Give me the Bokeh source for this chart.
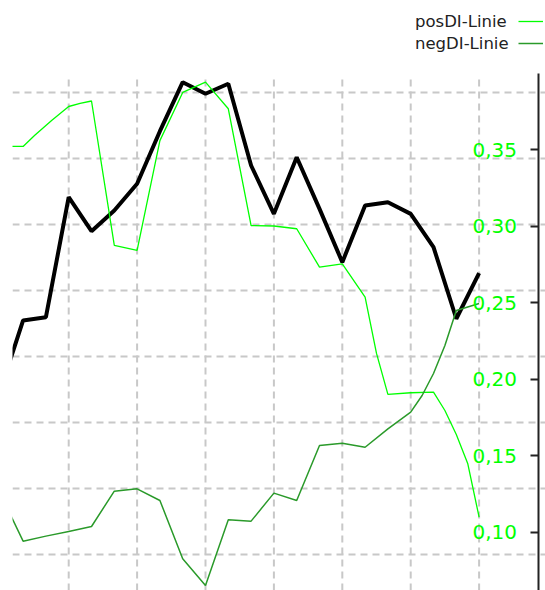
from bokeh.plotting import figure
from bokeh.models import Range1d, LinearAxis, FixedTicker, Grid, Legend, LegendItem
from bokeh.embed import file_html
from bokeh.resources import INLINE

# ---- data ----
idx = list(range(22))
adx_line = [17.42, 22.72, 22.97, 32.05, 29.48, 31.04, 33.07, 37.05, 40.76, 39.88, 40.64,
            34.45, 30.79, 35.08, 31.17, 27.13, 31.42, 31.67, 30.79, 28.27, 22.85, 26.30]

pos_x = [0, 1, 1.5, 2.25, 3, 3.5, 4, 5, 6, 7, 8, 9, 10, 11, 12, 13, 14, 15, 16, 16.5,
         17, 18, 19, 19.5, 20, 20.5, 21]
pos_di = [0.3522, 0.3522, 0.3593, 0.3692, 0.3783, 0.3803, 0.3819, 0.2875, 0.2842, 0.3560,
          0.3875, 0.3942, 0.3768, 0.3005, 0.3002, 0.2984, 0.2733, 0.2755, 0.2537, 0.2169,
          0.1901, 0.1912, 0.1916, 0.1796, 0.1639, 0.1450, 0.1099]

neg_x = [0, 1, 2, 3, 4, 5, 6, 7, 8, 9, 10, 11, 12, 13, 14, 15, 16, 17, 18, 18.5, 19,
         19.5, 20, 21]
neg_di = [0.1254, 0.0942, 0.0975, 0.1005, 0.1038, 0.1269, 0.1284, 0.1208, 0.0827, 0.0652,
          0.1082, 0.1073, 0.1256, 0.1208, 0.1567, 0.1582, 0.1556, 0.1676, 0.1785, 0.1894,
          0.2038, 0.2221, 0.2450, 0.2495]

di_ticks = [0.10, 0.15, 0.20, 0.25, 0.30, 0.35]
di_tick_labels = ["0,10", "0,15", "0,20", "0,25", "0,30", "0,35"]
adx_grid = [5, 10, 15, 20, 25, 30, 35, 40]
x_grid = [3, 6, 9, 12, 15, 18, 21]
legend_labels = ["posDI-Linie", "negDI-Linie"]

# ---- scales (plot area spans the DI range; space above holds the legend) ----
X_START, X_END, AXIS_X = 0.535, 23.912, 23.605
DI_BOTTOM, DI_TOP, DI_CANVAS_TOP = 0.06196, 0.39987, 0.44758

p = figure(width=545, height=590, output_backend="svg", toolbar_location=None,
           x_range=Range1d(X_START, X_END), y_range=Range1d(DI_BOTTOM, DI_CANVAS_TOP),
           x_axis_location=None, y_axis_location=None,
           min_border_left=12, min_border_right=0, min_border_top=0, min_border_bottom=0)
p.outline_line_color = None
p.background_fill_color = "white"
p.border_fill_color = "white"
p.extra_y_ranges = {"adx": Range1d(2.278, 46.942)}
p.xgrid.visible = False
p.ygrid.visible = False

grid_color, grid_width, grid_dash = "#c8c8c8", 2, "7 5"
hg = Grid(dimension=1, ticker=FixedTicker(ticks=adx_grid), y_range_name="adx",
          grid_line_color=grid_color, grid_line_width=grid_width, grid_line_dash=grid_dash)
p.add_layout(hg)
p.segment(x0=x_grid, x1=x_grid, y0=[DI_BOTTOM] * len(x_grid), y1=[DI_TOP - 0.003] * len(x_grid),
          line_color=grid_color, line_width=grid_width, line_dash=grid_dash)

r_adx = p.line(idx, adx_line, y_range_name="adx", line_color="black", line_width=4)
r_pos = p.line(pos_x, pos_di, line_color="#00ff00", line_width=1.3)
r_neg = p.line(neg_x, neg_di, line_color="#2a9a2a", line_width=1.5)

ax = LinearAxis(ticker=FixedTicker(ticks=di_ticks),
                major_label_overrides=dict(zip(di_ticks, di_tick_labels)),
                fixed_location=AXIS_X, bounds=(DI_BOTTOM, DI_TOP),
                major_tick_in=8, major_tick_out=0, major_label_standoff=-66,
                major_label_text_color="#00ff00", major_label_text_font="DejaVu Sans",
                major_label_text_font_size="20px",
                axis_line_width=2, axis_line_color="#222222",
                major_tick_line_width=2, major_tick_line_color="#222222",
                minor_tick_line_color=None)
p.add_layout(ax, "right")

leg_common = dict(padding=0, margin=0, spacing=0, glyph_height=22, label_height=22,
                  border_line_color=None, background_fill_alpha=0,
                  label_text_font="DejaVu Sans", label_text_font_size="16.5px",
                  label_text_color="#222222")
legA = Legend(items=[LegendItem(label=legend_labels[0], renderers=[r_pos]),
                     LegendItem(label=legend_labels[1], renderers=[r_neg])],
              location=(403, 536), glyph_width=0, label_standoff=0, **leg_common)
legB = Legend(items=[LegendItem(label="", renderers=[r_pos]),
                     LegendItem(label="", renderers=[r_neg])],
              location=(506, 536), glyph_width=25, label_standoff=0, label_width=0,
              **leg_common)
p.add_layout(legA)
p.add_layout(legB)

open("out.html", "w").write(file_html(p, INLINE))
